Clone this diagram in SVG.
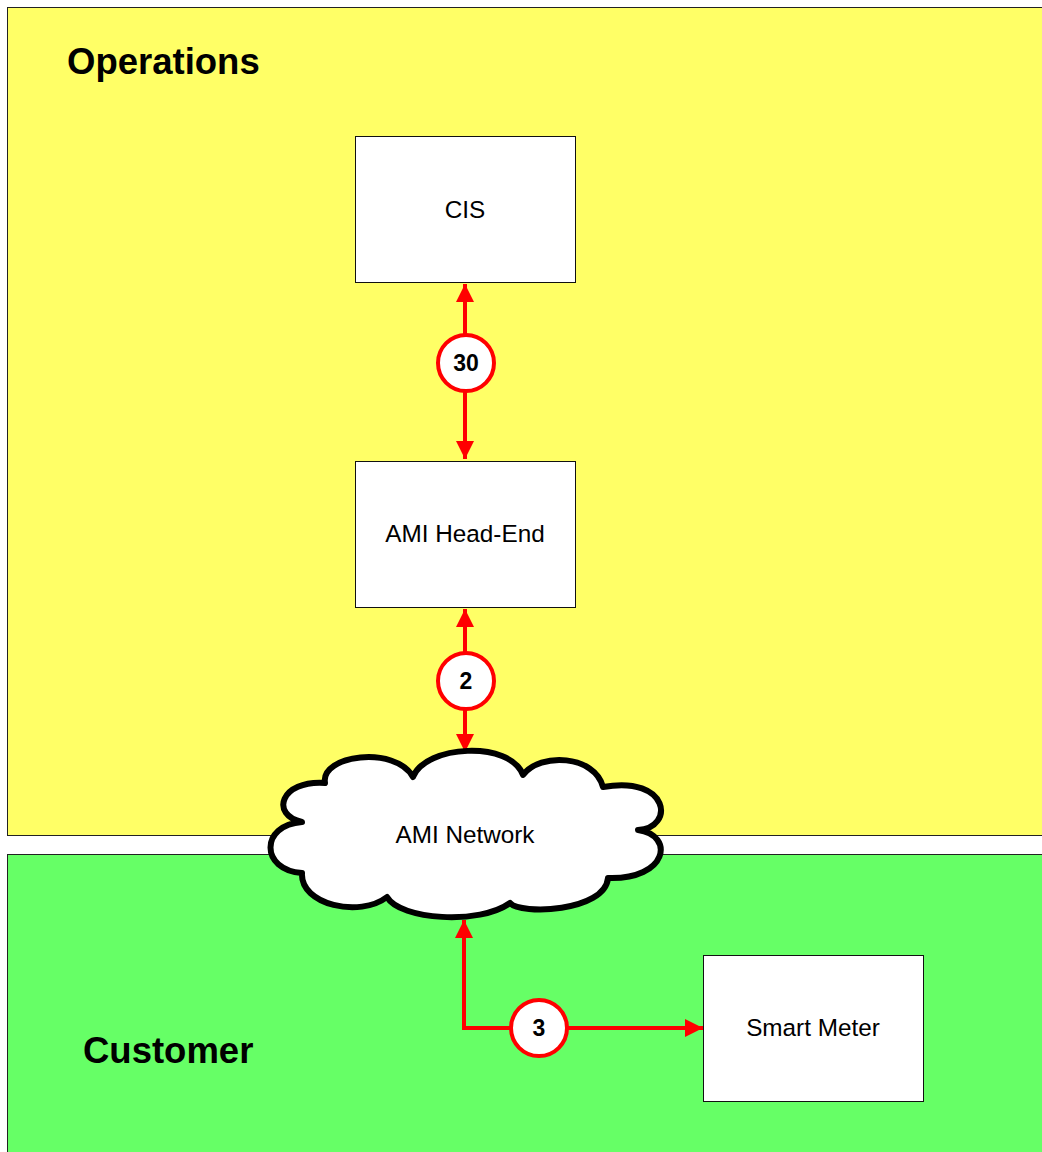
<svg xmlns="http://www.w3.org/2000/svg" width="1042" height="1152" viewBox="0 0 1042 1152">
<defs>
<style>
.lane{stroke:#222;stroke-width:1}
.box{fill:#fff;stroke:#111;stroke-width:1}
.lbl{font-family:"Liberation Sans",Arial,sans-serif;font-size:24.3px;fill:#000;text-anchor:middle;dominant-baseline:central}
.title{font-family:"Liberation Sans",Arial,sans-serif;font-size:36.5px;font-weight:bold;fill:#000}
.conn{fill:none;stroke:#ff0000;stroke-width:4}
.badge{fill:#fff;stroke:#ff0000;stroke-width:4}
.num{font-family:"Liberation Sans",Arial,sans-serif;font-size:23px;font-weight:bold;fill:#000;text-anchor:middle;dominant-baseline:central}
</style>
<marker id="ah" viewBox="0 0 10 10" refX="10" refY="5" markerWidth="4.5" markerHeight="4.5" orient="auto-start-reverse" markerUnits="strokeWidth">
<path d="M0,0 L10,5 L0,10 Z" fill="#ff0000"/>
</marker>
</defs>
<rect width="1042" height="1152" fill="#fff"/>
<g id="lane-operations">
<rect class="lane" x="7.5" y="7.5" width="1045" height="828" fill="#ffff66"/>
<text class="title" x="67" y="74">Operations</text>
</g>
<g id="lane-customer">
<rect class="lane" x="7.5" y="854.5" width="1045" height="310" fill="#66ff66"/>
<text class="title" x="83" y="1063">Customer</text>
</g>
<g id="connectors">
<line class="conn" x1="465" y1="284" x2="465" y2="459" marker-start="url(#ah)" marker-end="url(#ah)"/>
<line class="conn" x1="465" y1="609" x2="465" y2="752" marker-start="url(#ah)" marker-end="url(#ah)"/>
<polyline class="conn" points="464,920 464,1028 703,1028" marker-start="url(#ah)" marker-end="url(#ah)"/>
</g>
<g id="node-cis">
<rect class="box" x="355.5" y="136.5" width="220" height="146"/>
<text class="lbl" x="465" y="209">CIS</text>
</g>
<g id="node-headend">
<rect class="box" x="355.5" y="461.5" width="220" height="146"/>
<text class="lbl" x="465" y="533">AMI Head-End</text>
</g>
<g id="node-network">
<path d="M325,783 C320,755 395,745 413,777 C425,745 510,740 523,775 C540,752 595,755 603,787 C670,775 675,828 638,830 C675,835 668,880 608,878 C605,912 520,915 510,903 C480,925 400,920 387,897 C360,918 300,905 302,873 C260,870 260,825 302,822 C270,815 280,780 325,783 Z" fill="#fff" stroke="#000" stroke-width="6" stroke-linejoin="round"/>
<text class="lbl" x="465" y="834">AMI Network</text>
</g>
<g id="node-meter">
<rect class="box" x="703.5" y="955.5" width="220" height="146"/>
<text class="lbl" x="813" y="1027">Smart Meter</text>
</g>
<g id="badge-30">
<circle class="badge" cx="466" cy="363" r="28"/>
<text class="num" x="466" y="363">30</text>
</g>
<g id="badge-2">
<circle class="badge" cx="466" cy="681" r="28"/>
<text class="num" x="466" y="681">2</text>
</g>
<g id="badge-3">
<circle class="badge" cx="539" cy="1028" r="28"/>
<text class="num" x="539" y="1028">3</text>
</g>
</svg>
